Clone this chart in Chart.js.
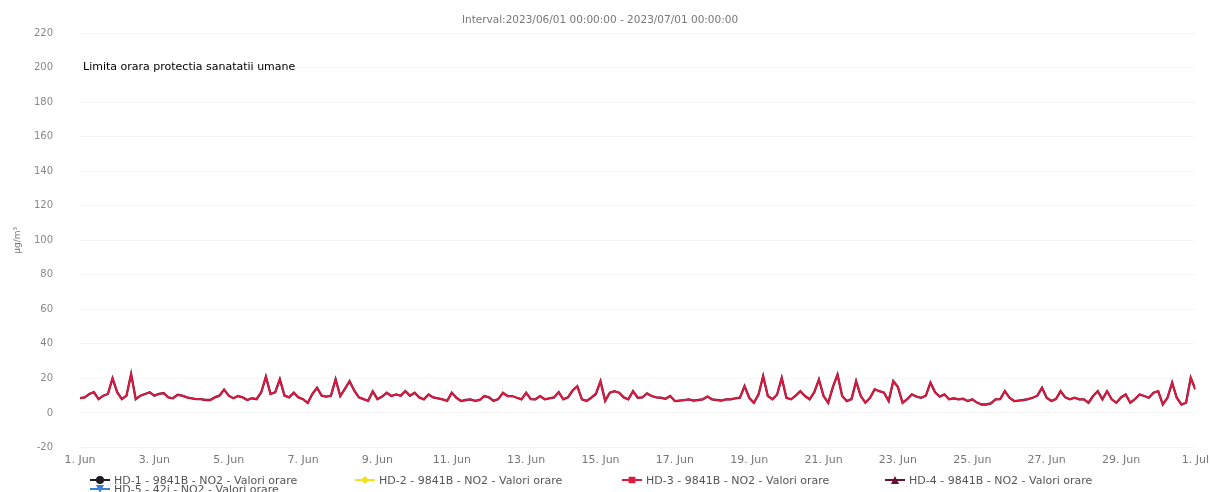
<!DOCTYPE html>
<html>
<head>
<meta charset="utf-8">
<script src="https://cdn.jsdelivr.net/npm/chart.js@4.4.0/dist/chart.umd.min.js"></script>
<style>
  html, body { margin: 0; padding: 0; background: #fff; }
  #wrap { position: relative; width: 1215px; height: 492px; }
  #legend { position: absolute; left: 0; top: 0; width: 1215px; height: 492px; pointer-events: none;
            font-family: "DejaVu Sans", sans-serif; font-size: 11px; color: #555; }
  .item { position: absolute; white-space: nowrap; display: flex; align-items: center; height: 10px; }
  .sym { position: relative; width: 20px; height: 10px; margin-right: 4px; }
  .sym .ln { position: absolute; left: 0; right: 0; top: 4px; height: 2px; }
  .sym .mk { position: absolute; left: 6px; top: 1px; width: 8px; height: 8px; }
</style>
</head>
<body>
<div id="wrap">
  <canvas id="chart" width="1215" height="492"></canvas>
  <div id="legend"></div>
</div>
<script>
// series shown in the legend
const seriesNames = [
    'HD-1 - 9841B - NO2 - Valori orare',
    'HD-2 - 9841B - NO2 - Valori orare',
    'HD-3 - 9841B - NO2 - Valori orare',
    'HD-4 - 9841B - NO2 - Valori orare',
    'HD-5 - 42i - NO2 - Valori orare'
];

// NO2 readings (µg/m³), every 3 hours from 2023/06/01 00:00, one row per day
const no2Values = [
    8.6, 9, 11, 12, 8, 10, 11, 20,
    12, 8, 10, 22.5, 8, 10, 11, 12,
    10, 11, 11.5, 9, 8.5, 10.5, 10, 9,
    8.5, 8, 8, 7.5, 7.5, 9, 10, 13.5,
    10, 8.5, 9.8, 9, 7.5, 8.5, 8, 12,
    21, 11, 12, 19.5, 10, 9, 11.7, 9,
    8, 5.8, 11, 14.5, 10, 9.5, 10, 19.5,
    9.8, 14, 18.4, 13, 9, 8, 7, 12.5,
    8, 9.5, 11.7, 9.8, 10.7, 10, 12.6, 10,
    11.7, 9, 7.9, 10.7, 9, 8.5, 7.9, 7,
    11.7, 8.8, 6.9, 7.5, 7.9, 7, 7.5, 9.8,
    9, 7, 8, 11.7, 9.8, 9.8, 8.8, 7.9,
    11.7, 8, 7.9, 9.8, 7.9, 8.5, 9, 12,
    7.9, 9, 13, 15.5, 7.9, 7, 8.8, 11,
    18.4, 7, 11.7, 12.6, 11.7, 9, 7.9, 12.6,
    8.8, 9, 11.3, 9.8, 9, 8.8, 8.2, 9.8,
    6.9, 7.2, 7.4, 7.9, 7.2, 7.5, 7.9, 9.5,
    7.9, 7.5, 7.2, 7.9, 7.9, 8.5, 8.8, 15.5,
    8.8, 5.9, 10.7, 21.3, 9.8, 7.9, 10.7, 20.3,
    8.8, 7.9, 10, 12.6, 9.8, 7.9, 12, 19.4,
    9.8, 5.9, 15, 22.2, 9.8, 6.9, 8, 18.4,
    9.8, 5.9, 8.8, 13.7, 12.6, 11.7, 6.9, 18.4,
    15, 5.9, 8, 10.7, 9.5, 8.8, 10, 17.5,
    12, 9.5, 10.7, 7.9, 8.5, 7.9, 8.2, 6.9,
    7.9, 6, 4.9, 4.9, 5.5, 7.9, 8, 12.6,
    8.8, 6.9, 7.2, 7.5, 8, 8.8, 10, 14.6,
    8.8, 7, 8, 12.6, 9, 7.9, 8.8, 7.9,
    7.9, 5.9, 9.8, 12.6, 7.9, 12.6, 7.9, 5.9,
    9, 10.7, 5.9, 8, 10.7, 9.8, 8.8, 11.7,
    12.6, 4.9, 8.8, 17.5, 8.8, 4.9, 5.9, 20.3,
    13.7
];
const stepHours = 3;

const xTickLabels = ['1. Jun', '3. Jun', '5. Jun', '7. Jun', '9. Jun', '11. Jun', '13. Jun', '15. Jun',
    '17. Jun', '19. Jun', '21. Jun', '23. Jun', '25. Jun', '27. Jun', '29. Jun', '1. Jul'];
const xTickStepHours = 48;

const limitValue = 200;
const limitLabel = 'Limita orara protectia sanatatii umane';
const titleText = 'Interval:2023/06/01 00:00:00 - 2023/07/01 00:00:00';

const colors = ['#1c1c24', '#f2e21a', '#e0193f', '#6a1034', '#3f7fcf'];
const markers = ['circle', 'diamond', 'square', 'triangle', 'triangle-down'];

const points = no2Values.map((v, i) => ({ x: i * stepHours, y: v }));

// the limit label sits on the 200 line
const limitLabelPlugin = {
    id: 'limitLabel',
    afterDatasetsDraw(chart) {
        const { ctx, chartArea, scales } = chart;
        const y = scales.y.getPixelForValue(limitValue);
        ctx.save();
        ctx.font = '11px "DejaVu Sans"';
        ctx.fillStyle = '#000';
        ctx.textBaseline = 'middle';
        ctx.fillText(limitLabel, chartArea.left + 3, y);
        ctx.restore();
    }
};

const datasets = seriesNames.map((name, i) => ({
    label: name,
    data: (i === 2 || i === 3) ? points : [],
    borderColor: colors[i],
    backgroundColor: colors[i],
    borderWidth: i === 3 ? 2.3 : 1.7,
    pointRadius: 0,
    tension: 0,
    fill: false
}));

new Chart(document.getElementById('chart'), {
    type: 'line',
    data: { datasets },
    options: {
        responsive: false,
        animation: false,
        layout: { padding: { left: 0, right: 15, top: 0, bottom: 22.5 } },
        plugins: {
            legend: { display: false },
            tooltip: { enabled: false },
            title: {
                display: true,
                text: titleText,
                color: '#777',
                font: { family: 'DejaVu Sans', size: 10.5, weight: 'normal' },
                padding: { top: 11, bottom: 6 }
            }
        },
        scales: {
            x: {
                type: 'linear',
                min: 0,
                max: (xTickLabels.length - 1) * xTickStepHours,
                afterBuildTicks: (scale) => {
                    scale.ticks = xTickLabels.map((_, i) => ({ value: i * xTickStepHours }));
                },
                afterFit: (scale) => { scale.height = 22; },
                ticks: {
                    autoSkip: false,
                    maxRotation: 0,
                    padding: 6,
                    color: '#777',
                    font: { family: 'DejaVu Sans', size: 11 },
                    callback: (value, index) => xTickLabels[index]
                },
                grid: { display: false, drawTicks: false },
                border: { display: false }
            },
            y: {
                min: -20,
                max: 220,
                afterFit: (scale) => { scale.width = 80; },
                ticks: {
                    stepSize: 20,
                    padding: 27,
                    color: '#888',
                    font: { family: 'DejaVu Sans', size: 10 }
                },
                grid: { color: '#f6f6f6', drawTicks: false },
                border: { display: false },
                title: {
                    display: true,
                    text: 'µg/m³',
                    color: '#777',
                    font: { family: 'DejaVu Sans', size: 9 },
                    padding: { top: 12, bottom: 0 }
                }
            }
        }
    },
    plugins: [limitLabelPlugin]
});

// html legend, four items on the first row, HD-5 below HD-1
const legendPos = [[90, 475], [355, 475], [622, 475], [885, 475], [90, 484]];
const clips = {
    'circle': 'circle(50% at 50% 50%)',
    'diamond': 'polygon(50% 0, 100% 50%, 50% 100%, 0 50%)',
    'square': 'inset(8% 8% 8% 8%)',
    'triangle': 'polygon(50% 0, 100% 100%, 0 100%)',
    'triangle-down': 'polygon(0 0, 100% 0, 50% 100%)'
};
const legend = document.getElementById('legend');
seriesNames.forEach((name, i) => {
    const item = document.createElement('div');
    item.className = 'item';
    item.style.left = legendPos[i][0] + 'px';
    item.style.top = legendPos[i][1] + 'px';
    item.innerHTML = `
        <span class="sym"><span class="ln" style="background:${colors[i]}"></span>
        <span class="mk" style="background:${colors[i]};clip-path:${clips[markers[i]]}"></span></span>
        <span>${name}</span>`;
    legend.appendChild(item);
});
</script>
</body>
</html>
